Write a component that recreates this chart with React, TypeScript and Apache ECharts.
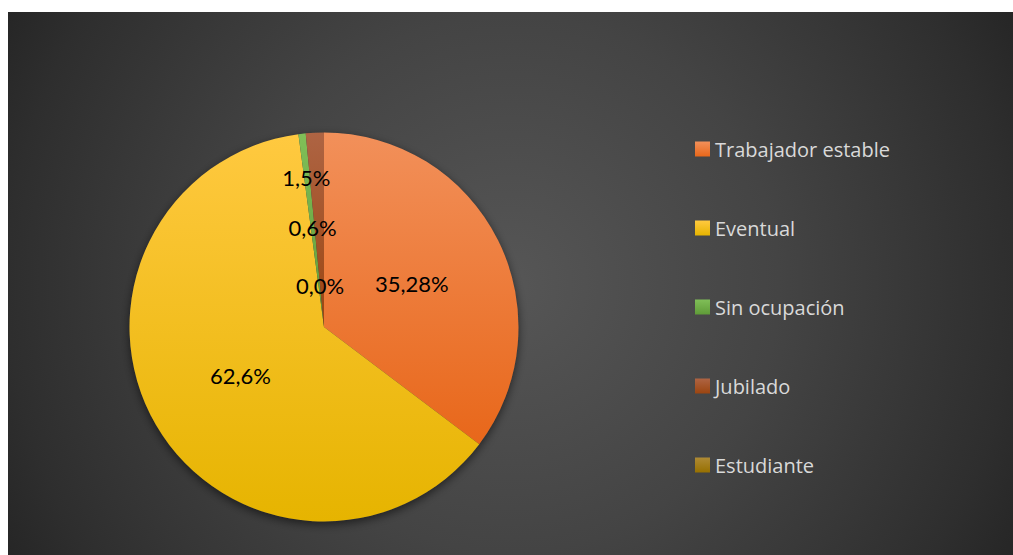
import React, { useEffect, useRef } from "react";
import * as echarts from "echarts";

const categories = ["Trabajador estable", "Eventual", "Sin ocupación", "Jubilado", "Estudiante"];
const values = [35.28, 62.6, 0.6, 1.5, 0.0];
const valueLabels = ["35,28%", "62,6%", "0,6%", "1,5%", "0,0%"];

const gradientStops: [string, string][] = [
  ["#F2905A", "#E8671A"],
  ["#FFC940", "#E6B400"],
  ["#80BF58", "#5F9B38"],
  ["#AE6443", "#9B4510"],
  ["#AE8A35", "#977000"],
];
const labelShift: [number, number][] = [
  [-2, 1],
  [3, -2],
  [0, 0],
  [-13, -49],
  [-4, 59],
];

export default function App() {
  const ref = useRef<HTMLDivElement>(null);
  useEffect(() => {
    if (!ref.current) return;
    const chart = echarts.init(ref.current, undefined, { renderer: "svg" });
    const data = categories.map((name, i) => ({
      name,
      value: values[i],
      itemStyle: {
        color: new echarts.graphic.LinearGradient(0, 0, 0, 1, [
          { offset: 0, color: gradientStops[i][0] },
          { offset: 1, color: gradientStops[i][1] },
        ]),
      },
    }));
    chart.setOption({
      animation: false,
      backgroundColor: "transparent",
      legend: {
        orient: "vertical",
        left: 682,
        top: 122,
        itemWidth: 15,
        itemHeight: 15,
        itemGap: 59,
        icon: "rect",
        data: categories,
        textStyle: {
          color: "#D9D9D9",
          fontSize: 20,
          lineHeight: 20,
          fontFamily: "Open Sans",
        },
      },
      series: [
        {
          type: "pie",
          name: "main",
          center: [316, 315],
          radius: [0, 194.5],
          startAngle: 90,
          clockwise: true,
          z: 3,
          data,
          itemStyle: { borderWidth: 0 },
          label: {
            show: true,
            position: "inside",
            color: "#000",
            fontSize: 22,
            fontFamily: "Lato",
            formatter: (p: any) => valueLabels[p.dataIndex],
          },
          labelLine: { show: false },
          labelLayout: (p: any) => ({
            dx: labelShift[p.dataIndex][0],
            dy: labelShift[p.dataIndex][1],
          }),
          emphasis: { disabled: true },
        },
        {
          type: "pie",
          name: "shadow",
          center: [316, 315],
          radius: [0, 194.5],
          silent: true,
          z: 1,
          legendHoverLink: false,
          data: [{ name: "__shadow", value: 1 }],
          itemStyle: {
            color: "#3a3a3a",
            shadowColor: "rgba(0,0,0,0.55)",
            shadowBlur: 10,
            shadowOffsetY: 3,
          },
          label: { show: false },
          labelLine: { show: false },
          emphasis: { disabled: true },
        },
      ],
    });
    return () => chart.dispose();
  }, []);
  return (
    <div
      ref={ref}
      style={{
        position: "absolute",
        left: 8,
        top: 12,
        width: 1005,
        height: 543,
        background:
          "radial-gradient(circle farthest-corner at 50% 50%, #565656 0%, #444444 47%, #2e2e2e 88%, #262626 100%)",
      }}
    />
  );
}
